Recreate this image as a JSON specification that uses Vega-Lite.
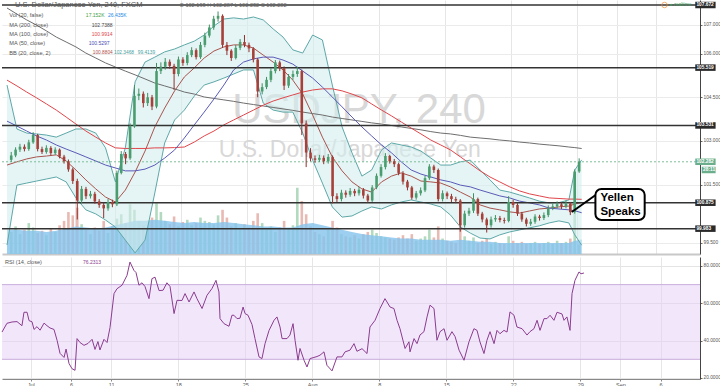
{
"$schema":"https://vega.github.io/schema/vega-lite/v6.json",
"padding":0,"background":"white","spacing":2,
"config":{"font":"Liberation Sans","view":{"stroke":null}},
"datasets":{
"bars":[
{"t":0.17,"o":102.35,"h":102.62,"l":102.28,"c":102.5,"v":40},
{"t":0.5,"o":102.5,"h":102.78,"l":102.44,"c":102.7,"v":50},
{"t":0.83,"o":102.7,"h":102.9,"l":102.62,"c":102.8,"v":36},
{"t":1.17,"o":102.8,"h":102.88,"l":102.64,"c":102.72,"v":44},
{"t":1.5,"o":102.72,"h":103.04,"l":102.66,"c":102.95,"v":56},
{"t":1.83,"o":102.95,"h":103.3,"l":102.9,"c":103.2,"v":48},
{"t":2.17,"o":103.2,"h":103.24,"l":102.64,"c":102.72,"v":38},
{"t":2.5,"o":102.72,"h":102.8,"l":102.55,"c":102.62,"v":42},
{"t":2.83,"o":102.62,"h":102.85,"l":102.56,"c":102.76,"v":34},
{"t":3.17,"o":102.76,"h":102.82,"l":102.5,"c":102.58,"v":46},
{"t":3.5,"o":102.58,"h":102.78,"l":102.52,"c":102.7,"v":40},
{"t":3.83,"o":102.7,"h":102.74,"l":102.4,"c":102.46,"v":52},
{"t":4.17,"o":102.46,"h":102.52,"l":102.22,"c":102.3,"v":60},
{"t":4.5,"o":102.3,"h":102.36,"l":101.94,"c":102.02,"v":76},
{"t":4.83,"o":102.02,"h":102.08,"l":101.52,"c":101.62,"v":70},
{"t":5.17,"o":101.62,"h":101.7,"l":100.3,"c":100.95,"v":84},
{"t":5.5,"o":100.95,"h":101.45,"l":100.85,"c":101.35,"v":54},
{"t":5.83,"o":101.35,"h":101.42,"l":101.0,"c":101.1,"v":44},
{"t":6.17,"o":101.1,"h":101.28,"l":101.02,"c":101.18,"v":36},
{"t":6.5,"o":101.18,"h":101.25,"l":100.84,"c":100.92,"v":48},
{"t":6.83,"o":100.92,"h":101.0,"l":100.7,"c":100.8,"v":42},
{"t":7.17,"o":100.8,"h":100.88,"l":100.35,"c":100.68,"v":60},
{"t":7.5,"o":100.68,"h":101.0,"l":100.6,"c":100.9,"v":38},
{"t":7.83,"o":100.9,"h":100.98,"l":100.72,"c":100.82,"v":50},
{"t":8.17,"o":100.82,"h":101.98,"l":100.76,"c":101.9,"v":64},
{"t":8.5,"o":101.9,"h":102.65,"l":101.85,"c":102.55,"v":72},
{"t":8.83,"o":102.55,"h":102.62,"l":102.2,"c":102.4,"v":56},
{"t":9.17,"o":102.4,"h":103.6,"l":102.35,"c":103.5,"v":90},
{"t":9.5,"o":103.5,"h":104.92,"l":103.45,"c":104.55,"v":80},
{"t":9.83,"o":104.55,"h":104.8,"l":104.4,"c":104.62,"v":60},
{"t":10.17,"o":104.62,"h":104.7,"l":104.15,"c":104.3,"v":52},
{"t":10.5,"o":104.3,"h":104.65,"l":104.2,"c":104.5,"v":48},
{"t":10.83,"o":104.5,"h":104.58,"l":104.06,"c":104.18,"v":66},
{"t":11.17,"o":104.18,"h":105.68,"l":104.12,"c":105.4,"v":92},
{"t":11.5,"o":105.4,"h":105.7,"l":105.3,"c":105.55,"v":76},
{"t":11.83,"o":105.55,"h":105.85,"l":105.45,"c":105.72,"v":60},
{"t":12.17,"o":105.72,"h":105.8,"l":105.48,"c":105.58,"v":54},
{"t":12.5,"o":105.58,"h":105.65,"l":104.75,"c":105.3,"v":68},
{"t":12.83,"o":105.3,"h":105.9,"l":105.22,"c":105.8,"v":50},
{"t":13.17,"o":105.8,"h":105.88,"l":105.58,"c":105.68,"v":58},
{"t":13.5,"o":105.68,"h":106.05,"l":105.6,"c":105.95,"v":62},
{"t":13.83,"o":105.95,"h":106.22,"l":105.88,"c":106.12,"v":52},
{"t":14.17,"o":106.12,"h":106.18,"l":105.8,"c":105.88,"v":56},
{"t":14.5,"o":105.88,"h":106.4,"l":105.82,"c":106.3,"v":66},
{"t":14.83,"o":106.3,"h":106.72,"l":106.22,"c":106.62,"v":60},
{"t":15.17,"o":106.62,"h":107.0,"l":106.55,"c":106.9,"v":58},
{"t":15.5,"o":106.9,"h":107.3,"l":106.82,"c":107.2,"v":54},
{"t":15.83,"o":107.2,"h":107.45,"l":107.1,"c":107.3,"v":70},
{"t":16.17,"o":107.3,"h":107.35,"l":106.2,"c":106.3,"v":80},
{"t":16.5,"o":106.3,"h":106.4,"l":105.95,"c":106.1,"v":66},
{"t":16.83,"o":106.1,"h":106.15,"l":105.75,"c":105.85,"v":50},
{"t":17.17,"o":105.85,"h":106.3,"l":105.8,"c":106.2,"v":56},
{"t":17.5,"o":106.2,"h":106.5,"l":106.12,"c":106.4,"v":44},
{"t":17.83,"o":106.4,"h":106.64,"l":106.22,"c":106.3,"v":54},
{"t":18.17,"o":106.3,"h":106.38,"l":106.05,"c":106.18,"v":48},
{"t":18.5,"o":106.18,"h":106.22,"l":105.7,"c":105.8,"v":60},
{"t":18.83,"o":105.8,"h":105.85,"l":104.5,"c":104.7,"v":74},
{"t":19.17,"o":104.7,"h":104.98,"l":104.6,"c":104.85,"v":56},
{"t":19.5,"o":104.85,"h":105.2,"l":104.78,"c":105.1,"v":44},
{"t":19.83,"o":105.1,"h":105.5,"l":105.02,"c":105.4,"v":50},
{"t":20.17,"o":105.4,"h":105.78,"l":105.32,"c":105.7,"v":40},
{"t":20.5,"o":105.7,"h":105.76,"l":105.4,"c":105.5,"v":48},
{"t":20.83,"o":105.5,"h":105.56,"l":104.75,"c":104.9,"v":60},
{"t":21.17,"o":104.9,"h":105.3,"l":104.82,"c":105.2,"v":46},
{"t":21.5,"o":105.2,"h":105.42,"l":105.1,"c":105.3,"v":52},
{"t":21.83,"o":105.3,"h":105.55,"l":105.2,"c":105.4,"v":120},
{"t":22.17,"o":105.4,"h":105.45,"l":103.2,"c":103.6,"v":96},
{"t":22.5,"o":103.6,"h":103.7,"l":102.1,"c":102.6,"v":72},
{"t":22.83,"o":102.6,"h":102.75,"l":102.3,"c":102.4,"v":50},
{"t":23.17,"o":102.4,"h":102.5,"l":102.25,"c":102.35,"v":40},
{"t":23.5,"o":102.35,"h":102.52,"l":102.28,"c":102.42,"v":36},
{"t":23.83,"o":102.42,"h":102.5,"l":102.2,"c":102.3,"v":32},
{"t":24.17,"o":102.3,"h":102.55,"l":102.22,"c":102.45,"v":44},
{"t":24.5,"o":102.45,"h":102.5,"l":100.85,"c":101.1,"v":60},
{"t":24.83,"o":101.1,"h":101.2,"l":100.9,"c":101.0,"v":48},
{"t":25.17,"o":101.0,"h":101.32,"l":100.92,"c":101.22,"v":36},
{"t":25.5,"o":101.22,"h":101.3,"l":101.05,"c":101.15,"v":32},
{"t":25.83,"o":101.15,"h":101.38,"l":101.08,"c":101.28,"v":30},
{"t":26.17,"o":101.28,"h":101.35,"l":101.1,"c":101.2,"v":34},
{"t":26.5,"o":101.2,"h":101.42,"l":101.12,"c":101.32,"v":28},
{"t":26.83,"o":101.32,"h":101.38,"l":101.02,"c":101.12,"v":36},
{"t":27.17,"o":101.12,"h":101.18,"l":100.88,"c":100.95,"v":40},
{"t":27.5,"o":100.95,"h":101.48,"l":100.9,"c":101.4,"v":44},
{"t":27.83,"o":101.4,"h":101.88,"l":101.34,"c":101.8,"v":38},
{"t":28.17,"o":101.8,"h":102.2,"l":101.74,"c":102.1,"v":32},
{"t":28.5,"o":102.1,"h":102.58,"l":102.02,"c":102.48,"v":30},
{"t":28.83,"o":102.48,"h":102.52,"l":102.22,"c":102.3,"v":28},
{"t":29.17,"o":102.3,"h":102.38,"l":102.1,"c":102.2,"v":26},
{"t":29.5,"o":102.2,"h":102.25,"l":101.82,"c":101.9,"v":30},
{"t":29.83,"o":101.9,"h":101.96,"l":101.5,"c":101.6,"v":34},
{"t":30.17,"o":101.6,"h":101.66,"l":101.3,"c":101.4,"v":28},
{"t":30.5,"o":101.4,"h":101.45,"l":100.98,"c":101.05,"v":36},
{"t":30.83,"o":101.05,"h":101.28,"l":100.98,"c":101.2,"v":24},
{"t":31.17,"o":101.2,"h":101.4,"l":101.12,"c":101.3,"v":28},
{"t":31.5,"o":101.3,"h":101.8,"l":101.24,"c":101.72,"v":32},
{"t":31.83,"o":101.72,"h":102.2,"l":101.66,"c":102.12,"v":44},
{"t":32.17,"o":102.12,"h":102.18,"l":101.9,"c":102.0,"v":30},
{"t":32.5,"o":102.0,"h":102.05,"l":100.92,"c":101.0,"v":50},
{"t":32.83,"o":101.0,"h":101.3,"l":100.92,"c":101.2,"v":28},
{"t":33.17,"o":101.2,"h":101.26,"l":101.0,"c":101.1,"v":24},
{"t":33.5,"o":101.1,"h":101.18,"l":100.9,"c":101.0,"v":22},
{"t":33.83,"o":101.0,"h":101.08,"l":100.86,"c":100.95,"v":20},
{"t":34.17,"o":100.95,"h":101.0,"l":99.88,"c":100.1,"v":56},
{"t":34.5,"o":100.1,"h":100.6,"l":100.02,"c":100.5,"v":32},
{"t":34.83,"o":100.5,"h":100.7,"l":100.42,"c":100.6,"v":24},
{"t":35.17,"o":100.6,"h":101.2,"l":100.52,"c":101.0,"v":30},
{"t":35.5,"o":101.0,"h":101.05,"l":100.42,"c":100.5,"v":20},
{"t":35.83,"o":100.5,"h":100.56,"l":100.2,"c":100.3,"v":24},
{"t":36.17,"o":100.3,"h":100.36,"l":99.85,"c":100.1,"v":28},
{"t":36.5,"o":100.1,"h":100.4,"l":100.02,"c":100.3,"v":18},
{"t":36.83,"o":100.3,"h":100.45,"l":100.22,"c":100.35,"v":22},
{"t":37.17,"o":100.35,"h":100.42,"l":100.2,"c":100.28,"v":20},
{"t":37.5,"o":100.28,"h":100.36,"l":100.16,"c":100.25,"v":18},
{"t":37.83,"o":100.25,"h":101.1,"l":100.2,"c":100.9,"v":32},
{"t":38.17,"o":100.9,"h":100.98,"l":100.7,"c":100.8,"v":24},
{"t":38.5,"o":100.8,"h":100.86,"l":100.42,"c":100.5,"v":20},
{"t":38.83,"o":100.5,"h":100.56,"l":100.22,"c":100.3,"v":22},
{"t":39.17,"o":100.3,"h":100.36,"l":100.06,"c":100.15,"v":18},
{"t":39.5,"o":100.15,"h":100.32,"l":100.08,"c":100.22,"v":20},
{"t":39.83,"o":100.22,"h":100.48,"l":100.15,"c":100.4,"v":22},
{"t":40.17,"o":100.4,"h":100.46,"l":100.26,"c":100.35,"v":18},
{"t":40.5,"o":100.35,"h":100.54,"l":100.28,"c":100.45,"v":20},
{"t":40.83,"o":100.45,"h":100.78,"l":100.38,"c":100.7,"v":22},
{"t":41.17,"o":100.7,"h":100.85,"l":100.62,"c":100.75,"v":18},
{"t":41.5,"o":100.75,"h":100.92,"l":100.68,"c":100.82,"v":24},
{"t":41.83,"o":100.82,"h":100.88,"l":100.66,"c":100.75,"v":20},
{"t":42.17,"o":100.75,"h":100.95,"l":100.68,"c":100.85,"v":22},
{"t":42.5,"o":100.85,"h":100.9,"l":100.45,"c":100.55,"v":28},
{"t":42.83,"o":100.55,"h":102.02,"l":100.5,"c":101.95,"v":76},
{"t":43.17,"o":101.95,"h":102.4,"l":101.9,"c":102.282,"v":17}
],
"ind":[
{"t":-0.15,"ma200":107.57,"ma100":105.09,"ma50":103.68,"bbm":102.17,"bbu":104.92,"bbl":99.42,"vma":44},
{"t":0.6,"ma200":107.36,"ma100":104.89,"ma50":103.51,"bbm":102.28,"bbu":103.41,"bbl":101.48,"vma":44},
{"t":1.34,"ma200":107.16,"ma100":104.68,"ma50":103.34,"bbm":102.38,"bbu":103.27,"bbl":101.55,"vma":42},
{"t":2.09,"ma200":106.98,"ma100":104.48,"ma50":103.17,"bbm":102.45,"bbu":103.24,"bbl":101.62,"vma":42},
{"t":2.84,"ma200":106.78,"ma100":104.27,"ma50":103.03,"bbm":102.48,"bbu":103.2,"bbl":101.69,"vma":40},
{"t":3.58,"ma200":106.57,"ma100":104.06,"ma50":102.86,"bbm":102.52,"bbu":103.13,"bbl":101.76,"vma":42},
{"t":4.33,"ma200":106.4,"ma100":103.82,"ma50":102.72,"bbm":102.31,"bbu":103.27,"bbl":101.59,"vma":46},
{"t":5.07,"ma200":106.23,"ma100":103.58,"ma50":102.59,"bbm":102.0,"bbu":103.41,"bbl":101.04,"vma":50},
{"t":5.82,"ma200":106.02,"ma100":103.34,"ma50":102.45,"bbm":101.66,"bbu":103.41,"bbl":100.63,"vma":48},
{"t":6.57,"ma200":105.85,"ma100":103.13,"ma50":102.31,"bbm":101.35,"bbu":103.27,"bbl":100.49,"vma":46},
{"t":7.31,"ma200":105.68,"ma100":102.93,"ma50":102.17,"bbm":101.07,"bbu":102.76,"bbl":100.28,"vma":48},
{"t":8.06,"ma200":105.54,"ma100":102.76,"ma50":102.07,"bbm":100.9,"bbu":101.59,"bbl":100.04,"vma":52},
{"t":8.81,"ma200":105.4,"ma100":102.74,"ma50":101.97,"bbm":101.31,"bbu":102.76,"bbl":99.59,"vma":56},
{"t":9.55,"ma200":105.27,"ma100":102.74,"ma50":101.97,"bbm":101.93,"bbu":105.03,"bbl":99.15,"vma":60},
{"t":10.3,"ma200":105.13,"ma100":102.74,"ma50":102.03,"bbm":102.65,"bbu":105.71,"bbl":99.59,"vma":60},
{"t":11.04,"ma200":104.99,"ma100":102.76,"ma50":102.17,"bbm":103.48,"bbu":105.88,"bbl":101.21,"vma":62},
{"t":11.79,"ma200":104.89,"ma100":102.76,"ma50":102.41,"bbm":104.13,"bbu":106.06,"bbl":102.93,"vma":60},
{"t":12.54,"ma200":104.79,"ma100":102.77,"ma50":102.69,"bbm":104.72,"bbu":106.16,"bbl":103.72,"vma":58},
{"t":13.28,"ma200":104.68,"ma100":102.79,"ma50":103.1,"bbm":105.2,"bbu":106.3,"bbl":104.06,"vma":56},
{"t":14.03,"ma200":104.61,"ma100":102.96,"ma50":103.55,"bbm":105.51,"bbu":106.43,"bbl":104.54,"vma":58},
{"t":14.78,"ma200":104.51,"ma100":103.17,"ma50":103.99,"bbm":105.85,"bbu":106.64,"bbl":104.92,"vma":56},
{"t":15.52,"ma200":104.46,"ma100":103.34,"ma50":104.44,"bbm":106.09,"bbu":106.95,"bbl":105.03,"vma":56},
{"t":16.27,"ma200":104.41,"ma100":103.55,"ma50":104.92,"bbm":106.23,"bbu":107.19,"bbl":105.16,"vma":58},
{"t":17.01,"ma200":104.36,"ma100":103.72,"ma50":105.44,"bbm":106.3,"bbu":107.23,"bbl":105.3,"vma":56},
{"t":17.76,"ma200":104.3,"ma100":103.89,"ma50":105.71,"bbm":106.3,"bbu":107.19,"bbl":105.44,"vma":54},
{"t":18.51,"ma200":104.25,"ma100":104.06,"ma50":105.82,"bbm":106.19,"bbu":107.26,"bbl":105.44,"vma":52},
{"t":19.25,"ma200":104.2,"ma100":104.23,"ma50":105.88,"bbm":105.95,"bbu":107.16,"bbl":104.3,"vma":50},
{"t":20.0,"ma200":104.15,"ma100":104.37,"ma50":105.88,"bbm":105.71,"bbu":106.85,"bbl":104.06,"vma":50},
{"t":20.75,"ma200":104.1,"ma100":104.48,"ma50":105.78,"bbm":105.44,"bbu":106.57,"bbl":103.99,"vma":48},
{"t":21.49,"ma200":104.05,"ma100":104.58,"ma50":105.64,"bbm":105.09,"bbu":106.13,"bbl":103.99,"vma":48},
{"t":22.24,"ma200":103.99,"ma100":104.68,"ma50":105.4,"bbm":104.61,"bbu":106.02,"bbl":103.27,"vma":54},
{"t":22.99,"ma200":103.94,"ma100":104.75,"ma50":105.16,"bbm":103.89,"bbu":106.64,"bbl":102.34,"vma":56},
{"t":23.73,"ma200":103.89,"ma100":104.79,"ma50":104.85,"bbm":103.13,"bbu":106.47,"bbl":101.55,"vma":52},
{"t":24.48,"ma200":103.82,"ma100":104.79,"ma50":104.51,"bbm":102.45,"bbu":104.92,"bbl":100.73,"vma":48},
{"t":25.22,"ma200":103.77,"ma100":104.72,"ma50":104.17,"bbm":101.97,"bbu":103.48,"bbl":100.38,"vma":44},
{"t":25.97,"ma200":103.72,"ma100":104.61,"ma50":103.82,"bbm":101.59,"bbu":102.59,"bbl":100.42,"vma":40},
{"t":26.72,"ma200":103.67,"ma100":104.48,"ma50":103.48,"bbm":101.35,"bbu":101.79,"bbl":100.59,"vma":36},
{"t":27.46,"ma200":103.62,"ma100":104.27,"ma50":103.17,"bbm":101.24,"bbu":102.0,"bbl":100.73,"vma":34},
{"t":28.21,"ma200":103.58,"ma100":104.06,"ma50":102.86,"bbm":101.59,"bbu":102.69,"bbl":100.66,"vma":32},
{"t":28.96,"ma200":103.53,"ma100":103.86,"ma50":102.59,"bbm":101.79,"bbu":102.93,"bbl":100.8,"vma":30},
{"t":29.7,"ma200":103.48,"ma100":103.65,"ma50":102.28,"bbm":101.9,"bbu":102.86,"bbl":100.9,"vma":28},
{"t":30.45,"ma200":103.43,"ma100":103.44,"ma50":102.0,"bbm":101.79,"bbu":102.79,"bbl":100.97,"vma":28},
{"t":31.19,"ma200":103.38,"ma100":103.24,"ma50":101.86,"bbm":101.62,"bbu":102.65,"bbl":100.9,"vma":26},
{"t":31.94,"ma200":103.32,"ma100":103.03,"ma50":101.76,"bbm":101.59,"bbu":102.41,"bbl":100.83,"vma":26},
{"t":32.69,"ma200":103.27,"ma100":102.86,"ma50":101.66,"bbm":101.55,"bbu":102.17,"bbl":100.73,"vma":26},
{"t":33.43,"ma200":103.24,"ma100":102.69,"ma50":101.59,"bbm":101.42,"bbu":102.17,"bbl":100.45,"vma":24},
{"t":34.18,"ma200":103.19,"ma100":102.45,"ma50":101.48,"bbm":101.24,"bbu":102.28,"bbl":100.04,"vma":26},
{"t":34.93,"ma200":103.13,"ma100":102.21,"ma50":101.42,"bbm":101.07,"bbu":102.34,"bbl":99.83,"vma":24},
{"t":35.67,"ma200":103.1,"ma100":101.97,"ma50":101.31,"bbm":100.8,"bbu":102.0,"bbl":99.66,"vma":22},
{"t":36.42,"ma200":103.07,"ma100":101.76,"ma50":101.21,"bbm":100.69,"bbu":101.66,"bbl":99.63,"vma":22},
{"t":37.16,"ma200":103.03,"ma100":101.59,"ma50":101.11,"bbm":100.63,"bbu":101.31,"bbl":99.77,"vma":20},
{"t":37.91,"ma200":103.0,"ma100":101.42,"ma50":101.04,"bbm":100.56,"bbu":101.24,"bbl":99.87,"vma":20},
{"t":38.66,"ma200":102.96,"ma100":101.28,"ma50":100.93,"bbm":100.52,"bbu":101.14,"bbl":99.94,"vma":20},
{"t":39.4,"ma200":102.93,"ma100":101.18,"ma50":100.87,"bbm":100.59,"bbu":101.04,"bbl":100.01,"vma":20},
{"t":40.15,"ma200":102.89,"ma100":101.11,"ma50":100.8,"bbm":100.66,"bbu":100.93,"bbl":100.08,"vma":20},
{"t":40.9,"ma200":102.86,"ma100":101.04,"ma50":100.69,"bbm":100.69,"bbu":100.87,"bbl":100.18,"vma":20},
{"t":41.64,"ma200":102.83,"ma100":101.02,"ma50":100.66,"bbm":100.73,"bbu":100.88,"bbl":100.25,"vma":20},
{"t":42.39,"ma200":102.79,"ma100":101.0,"ma50":100.63,"bbm":100.76,"bbu":100.97,"bbl":100.18,"vma":20},
{"t":42.84,"ma200":102.77,"ma100":101.0,"ma50":100.6,"bbm":100.83,"bbu":102.0,"bbl":99.77,"vma":24},
{"t":43.36,"ma200":102.7388,"ma100":100.9914,"ma50":100.5297,"bbm":100.8804,"bbu":102.3468,"bbl":99.4139,"vma":26.4}
],
"rsi":[
{"t":-0.15,"r":44.6},{"t":0.22,"r":49.3},{"t":0.6,"r":50},{"t":0.97,"r":50.2},{"t":1.34,"r":48},{"t":1.49,"r":55.2},{"t":1.72,"r":55.2},{"t":1.87,"r":50.7},{"t":2.09,"r":50.1},{"t":2.24,"r":46},{"t":2.46,"r":47.5},{"t":2.69,"r":45.6},{"t":2.99,"r":49.4},{"t":3.21,"r":48},{"t":3.43,"r":46.8},{"t":3.73,"r":46},{"t":3.96,"r":40.2},{"t":4.18,"r":33.2},{"t":4.48,"r":31},{"t":4.63,"r":35.5},{"t":4.85,"r":27.8},{"t":5.07,"r":25},{"t":5.3,"r":24.1},{"t":5.45,"r":41.1},{"t":5.67,"r":39},{"t":5.97,"r":37.5},{"t":6.27,"r":38.5},{"t":6.57,"r":40.7},{"t":6.79,"r":35.3},{"t":7.01,"r":39.5},{"t":7.16,"r":35},{"t":7.46,"r":40.7},{"t":7.69,"r":39},{"t":7.91,"r":47},{"t":8.21,"r":65.2},{"t":8.43,"r":67.8},{"t":8.81,"r":69.7},{"t":9.18,"r":75},{"t":9.4,"r":82.1},{"t":9.7,"r":77.6},{"t":9.85,"r":76.5},{"t":10.07,"r":69.7},{"t":10.3,"r":71},{"t":10.52,"r":69},{"t":10.82,"r":62.5},{"t":11.04,"r":73.2},{"t":11.27,"r":74},{"t":11.57,"r":66.8},{"t":11.87,"r":67},{"t":12.16,"r":71},{"t":12.39,"r":69},{"t":12.69,"r":54.5},{"t":12.91,"r":61.6},{"t":13.28,"r":61.5},{"t":13.51,"r":65.2},{"t":13.81,"r":60.7},{"t":14.18,"r":66.1},{"t":14.4,"r":62.5},{"t":14.78,"r":57.2},{"t":15.15,"r":64.3},{"t":15.52,"r":67.9},{"t":15.82,"r":72.3},{"t":16.04,"r":66.1},{"t":16.12,"r":51.8},{"t":16.42,"r":49.1},{"t":16.79,"r":47.7},{"t":17.01,"r":53.6},{"t":17.16,"r":53.6},{"t":17.39,"r":51.8},{"t":17.61,"r":52},{"t":17.84,"r":58},{"t":17.99,"r":54.5},{"t":18.21,"r":53.6},{"t":18.51,"r":48.6},{"t":18.73,"r":41.1},{"t":19.03,"r":31.3},{"t":19.25,"r":30.4},{"t":19.48,"r":38.4},{"t":19.78,"r":45.5},{"t":20.15,"r":50.9},{"t":20.37,"r":52.7},{"t":20.6,"r":47.3},{"t":20.75,"r":41.1},{"t":21.12,"r":41.1},{"t":21.34,"r":43},{"t":21.57,"r":49.1},{"t":21.72,"r":40.2},{"t":21.94,"r":29.5},{"t":22.09,"r":35.8},{"t":22.39,"r":29.5},{"t":22.61,"r":25.9},{"t":22.84,"r":30.4},{"t":23.13,"r":31},{"t":23.36,"r":31.5},{"t":23.58,"r":32.2},{"t":23.88,"r":34},{"t":24.1,"r":26.8},{"t":24.48,"r":23.8},{"t":24.85,"r":31.3},{"t":25.22,"r":31.3},{"t":25.45,"r":34},{"t":25.82,"r":34.9},{"t":26.12,"r":38.4},{"t":26.34,"r":34.3},{"t":26.72,"r":35.7},{"t":27.09,"r":33.1},{"t":27.31,"r":47.3},{"t":27.69,"r":50.9},{"t":28.06,"r":57.2},{"t":28.43,"r":62.5},{"t":28.81,"r":58},{"t":29.1,"r":57.2},{"t":29.33,"r":50.9},{"t":29.55,"r":46.4},{"t":29.93,"r":35.8},{"t":30.22,"r":39.4},{"t":30.3,"r":34},{"t":30.6,"r":41.1},{"t":30.82,"r":38.4},{"t":31.04,"r":43},{"t":31.34,"r":44.8},{"t":31.57,"r":52.7},{"t":31.79,"r":59},{"t":32.09,"r":57.2},{"t":32.31,"r":40.2},{"t":32.54,"r":44.8},{"t":32.84,"r":46.4},{"t":33.06,"r":40.2},{"t":33.43,"r":44.8},{"t":33.66,"r":42.2},{"t":33.96,"r":34.9},{"t":34.33,"r":29.5},{"t":34.7,"r":39.4},{"t":35.07,"r":46.4},{"t":35.3,"r":45.5},{"t":35.52,"r":39.3},{"t":35.82,"r":33.1},{"t":36.04,"r":40.2},{"t":36.27,"r":44.8},{"t":36.57,"r":38.4},{"t":36.79,"r":45.5},{"t":37.01,"r":43.7},{"t":37.31,"r":45.5},{"t":37.54,"r":44.6},{"t":37.76,"r":55.4},{"t":38.06,"r":53.6},{"t":38.28,"r":47.3},{"t":38.66,"r":46.4},{"t":39.03,"r":43},{"t":39.25,"r":44.8},{"t":39.55,"r":46.4},{"t":39.78,"r":50.9},{"t":40.0,"r":45.5},{"t":40.3,"r":51.8},{"t":40.52,"r":51.8},{"t":40.75,"r":53.6},{"t":41.04,"r":50.9},{"t":41.27,"r":55.2},{"t":41.64,"r":54.3},{"t":41.79,"r":50.9},{"t":42.01,"r":52.7},{"t":42.24,"r":45.5},{"t":42.39,"r":65.2},{"t":42.61,"r":72.3},{"t":42.91,"r":76.8},{"t":43.06,"r":75.8},{"t":43.28,"r":76.2313}
],
"levels":[{"level":107.672},{"level":105.519},{"level":103.531},{"level":100.875},{"level":99.983}]
},
"vconcat":[
{
"width":698,"height":254,
"resolve":{"scale":{"y":"independent"}},
"layer":[
{"data":{"values":[{}]},
 "layer":[
  {"mark":{"type":"text","text":"USDJPY, 240","fontSize":42,"color":"#d8d8d8","align":"center","baseline":"alphabetic"},
   "encoding":{"x":{"datum":26.5,"type":"quantitative","scale":{"domain":[-0.15,51.94],"nice":false,"zero":false},"axis":{"values":[2,5,8,13,18,23,28,33,38,43,46,49],"labels":false,"ticks":false,"domain":true,"domainColor":"#c8c8c8","domainWidth":2,"grid":true,"gridColor":"#e6e6e6","title":null}},
   "y":{"datum":103.62,"type":"quantitative","scale":{"domain":[99.112,107.844],"nice":false,"zero":false},"axis":null}}},
  {"mark":{"type":"text","text":"U.S. Dollar/Japanese Yen","fontSize":23,"color":"#d8d8d8","align":"center","baseline":"alphabetic"},
   "encoding":{"x":{"datum":25.8,"type":"quantitative"},"y":{"datum":102.45,"type":"quantitative"}}}
 ]},
{"data":{"name":"bars"},
 "layer":[
  {"mark":{"type":"bar","width":2.6},
   "encoding":{"x":{"field":"t","type":"quantitative","title":null},
   "y":{"field":"v","type":"quantitative","scale":{"domain":[0,460],"nice":false},"axis":null,"title":null},
   "color":{"condition":{"test":"datum.c >= datum.o","value":"#b2dabf"},"value":"#e8bab4"}}},
  {"data":{"name":"ind"},"mark":{"type":"area","color":"#84c3ec","opacity":0.8},
   "encoding":{"x":{"field":"t","type":"quantitative","title":null},"y":{"field":"vma","type":"quantitative","title":null}}}
 ]},
{"layer":[
  {"data":{"name":"ind"},"mark":{"type":"area","color":"#d4ecec","opacity":0.6},
   "encoding":{"x":{"field":"t","type":"quantitative","title":null},
   "y":{"field":"bbl","type":"quantitative","title":null,"scale":{"domain":[99.112,107.844],"nice":false,"zero":false},
        "axis":{"orient":"right","values":[99.5,100.5,101.5,102.5,103,104,104.5,105,106,106.5,107,107.5],"format":".3f","grid":true,"gridColor":"#ebebeb","title":null,"labelFontSize":4.8,"labelColor":"#555","tickSize":2,"tickColor":"#666","domainColor":"#444","labelPadding":1,"labelOverlap":false}},
   "y2":{"field":"bbu"}}},
  {"data":{"name":"ind"},"mark":{"type":"line","color":"#5ea8a8","strokeWidth":1},
   "encoding":{"x":{"field":"t","type":"quantitative","title":null},"y":{"field":"bbu","type":"quantitative","title":null}}},
  {"data":{"name":"ind"},"mark":{"type":"line","color":"#5ea8a8","strokeWidth":1},
   "encoding":{"x":{"field":"t","type":"quantitative","title":null},"y":{"field":"bbl","type":"quantitative","title":null}}},
  {"data":{"name":"ind"},"mark":{"type":"line","color":"#a9544f","strokeWidth":1},
   "encoding":{"x":{"field":"t","type":"quantitative","title":null},"y":{"field":"bbm","type":"quantitative","title":null}}},
  {"data":{"name":"ind"},"mark":{"type":"line","color":"#6e6e6e","strokeWidth":1},
   "encoding":{"x":{"field":"t","type":"quantitative","title":null},"y":{"field":"ma200","type":"quantitative","title":null}}},
  {"data":{"name":"ind"},"mark":{"type":"line","color":"#e0464b","strokeWidth":1},
   "encoding":{"x":{"field":"t","type":"quantitative","title":null},"y":{"field":"ma100","type":"quantitative","title":null}}},
  {"data":{"name":"ind"},"mark":{"type":"line","color":"#5a5ab8","strokeWidth":1},
   "encoding":{"x":{"field":"t","type":"quantitative","title":null},"y":{"field":"ma50","type":"quantitative","title":null}}},
  {"data":{"name":"levels"},"mark":{"type":"rule","color":"#333333","strokeWidth":1.5},
   "encoding":{"y":{"field":"level","type":"quantitative","title":null}}},
  {"data":{"values":[{}]},"mark":{"type":"rule","color":"#7fbf9c","strokeWidth":1,"strokeDash":[2,2]},
   "encoding":{"y":{"datum":102.282,"type":"quantitative"}}},
  {"data":{"name":"bars"},"mark":{"type":"rule","strokeWidth":1},
   "encoding":{"x":{"field":"t","type":"quantitative","title":null},"y":{"field":"l","type":"quantitative","title":null},"y2":{"field":"h"},
   "color":{"condition":{"test":"datum.c >= datum.o","value":"#3f8f62"},"value":"#8f302c"}}},
  {"data":{"name":"bars"},"mark":{"type":"bar","width":2.6},
   "encoding":{"x":{"field":"t","type":"quantitative","title":null},"y":{"field":"o","type":"quantitative","title":null},"y2":{"field":"c"},
   "color":{"condition":{"test":"datum.c >= datum.o","value":"#4a9d6f"},"value":"#a8403a"}}},
  {"data":{"name":"levels"},"mark":{"type":"rule","color":"#2a2a2a","strokeWidth":6.5},
   "encoding":{"x":{"datum":51.96,"type":"quantitative"},"x2":{"datum":53.5},"y":{"field":"level","type":"quantitative","title":null}}},
  {"data":{"name":"levels"},"mark":{"type":"text","color":"white","fontSize":4.8,"fontWeight":"bold","align":"left","baseline":"middle"},
   "encoding":{"x":{"datum":52.05,"type":"quantitative"},"y":{"field":"level","type":"quantitative","title":null},"text":{"field":"level","type":"quantitative","format":".3f"}}},
  {"data":{"values":[{}]},
   "layer":[
    {"mark":{"type":"rule","color":"#6aae8c","strokeWidth":6.5},"encoding":{"x":{"datum":51.96,"type":"quantitative"},"x2":{"datum":53.5},"y":{"datum":102.282,"type":"quantitative"}}},
    {"mark":{"type":"text","text":"102.282","color":"white","fontSize":4.8,"fontWeight":"bold","align":"left","baseline":"middle"},"encoding":{"x":{"datum":52.05,"type":"quantitative"},"y":{"datum":102.282,"type":"quantitative"}}},
    {"mark":{"type":"rule","color":"#6aae8c","strokeWidth":6.5},"encoding":{"x":{"datum":52.45,"type":"quantitative"},"x2":{"datum":53.5},"y":{"datum":102.0,"type":"quantitative"}}},
    {"mark":{"type":"text","text":"28:11","color":"white","fontSize":4.8,"fontWeight":"bold","align":"left","baseline":"middle"},"encoding":{"x":{"datum":52.55,"type":"quantitative"},"y":{"datum":102.0,"type":"quantitative"}}},
    {"mark":{"type":"text","text":"U.S. Dollar/Japanese Yen, 240, FXCM","fontSize":7.5,"color":"#555","align":"left","baseline":"middle"},"encoding":{"x":{"datum":0.45,"type":"quantitative"},"y":{"datum":107.672,"type":"quantitative"}}},
    {"mark":{"type":"text","text":"O 102.193  H 102.287  L 102.232  C 102.282","fontSize":5.6,"color":"#666","align":"left","baseline":"middle"},"encoding":{"x":{"datum":12.91,"type":"quantitative"},"y":{"datum":107.672,"type":"quantitative"}}},
    {"mark":{"type":"point","shape":"circle","filled":false,"color":"#f08c2c","size":30,"strokeWidth":1},"encoding":{"x":{"datum":49.63,"type":"quantitative"},"y":{"datum":107.672,"type":"quantitative"}}},
    {"mark":{"type":"text","text":"● realtime","fontSize":4.8,"color":"#3a9a5a","align":"left","baseline":"middle"},"encoding":{"x":{"datum":50.05,"type":"quantitative"},"y":{"datum":107.672,"type":"quantitative"}}},
    {"mark":{"type":"text","text":"Vol (20, false)","fontSize":5.6,"color":"#555","align":"left","baseline":"middle"},"encoding":{"x":{"datum":0.02,"type":"quantitative"},"y":{"datum":107.33,"type":"quantitative"}}},
    {"mark":{"type":"text","text":"17.152K","fontSize":5,"color":"#43a047","align":"left","baseline":"middle"},"encoding":{"x":{"datum":5.82,"type":"quantitative"},"y":{"datum":107.33,"type":"quantitative"}}},
    {"mark":{"type":"text","text":"26.435K","fontSize":5,"color":"#1e88e5","align":"left","baseline":"middle"},"encoding":{"x":{"datum":7.5,"type":"quantitative"},"y":{"datum":107.33,"type":"quantitative"}}},
    {"mark":{"type":"text","text":"MA (200, close)","fontSize":5.6,"color":"#555","align":"left","baseline":"middle"},"encoding":{"x":{"datum":0.02,"type":"quantitative"},"y":{"datum":106.98,"type":"quantitative"}}},
    {"mark":{"type":"text","text":"102.7388","fontSize":5,"color":"#444","align":"left","baseline":"middle"},"encoding":{"x":{"datum":6.27,"type":"quantitative"},"y":{"datum":106.98,"type":"quantitative"}}},
    {"mark":{"type":"text","text":"MA (100, close)","fontSize":5.6,"color":"#555","align":"left","baseline":"middle"},"encoding":{"x":{"datum":0.02,"type":"quantitative"},"y":{"datum":106.675,"type":"quantitative"}}},
    {"mark":{"type":"text","text":"100.9914","fontSize":5,"color":"#e0464b","align":"left","baseline":"middle"},"encoding":{"x":{"datum":6.27,"type":"quantitative"},"y":{"datum":106.675,"type":"quantitative"}}},
    {"mark":{"type":"text","text":"MA (50, close)","fontSize":5.6,"color":"#555","align":"left","baseline":"middle"},"encoding":{"x":{"datum":0.02,"type":"quantitative"},"y":{"datum":106.366,"type":"quantitative"}}},
    {"mark":{"type":"text","text":"100.5297","fontSize":5,"color":"#4b4bb5","align":"left","baseline":"middle"},"encoding":{"x":{"datum":6.04,"type":"quantitative"},"y":{"datum":106.366,"type":"quantitative"}}},
    {"mark":{"type":"text","text":"BB (20, close, 2)","fontSize":5.6,"color":"#555","align":"left","baseline":"middle"},"encoding":{"x":{"datum":0.02,"type":"quantitative"},"y":{"datum":106.022,"type":"quantitative"}}},
    {"mark":{"type":"text","text":"100.8804","fontSize":4.8,"color":"#b0504a","align":"left","baseline":"middle"},"encoding":{"x":{"datum":6.34,"type":"quantitative"},"y":{"datum":106.022,"type":"quantitative"}}},
    {"mark":{"type":"text","text":"102.3468","fontSize":4.8,"color":"#3f9e9e","align":"left","baseline":"middle"},"encoding":{"x":{"datum":7.95,"type":"quantitative"},"y":{"datum":106.022,"type":"quantitative"}}},
    {"mark":{"type":"text","text":"99.4139","fontSize":4.8,"color":"#3f9e9e","align":"left","baseline":"middle"},"encoding":{"x":{"datum":9.75,"type":"quantitative"},"y":{"datum":106.022,"type":"quantitative"}}},
    {"mark":{"type":"rule","color":"black","strokeWidth":2},"encoding":{"x":{"datum":44.63,"type":"quantitative"},"y":{"datum":101.21,"type":"quantitative"},"x2":{"datum":42.61},"y2":{"datum":100.556}}},
    {"mark":{"type":"rect","fill":"white","stroke":"black","strokeWidth":2,"cornerRadius":6},"encoding":{"x":{"datum":44.4,"type":"quantitative"},"x2":{"datum":48.13},"y":{"datum":101.347,"type":"quantitative"},"y2":{"datum":100.281}}},
    {"mark":{"type":"text","text":"Yellen","fontSize":11.5,"fontWeight":"bold","color":"black","align":"left","baseline":"alphabetic"},"encoding":{"x":{"datum":44.78,"type":"quantitative"},"y":{"datum":100.934,"type":"quantitative"}}},
    {"mark":{"type":"text","text":"Speaks","fontSize":11.5,"fontWeight":"bold","color":"black","align":"left","baseline":"alphabetic"},"encoding":{"x":{"datum":44.78,"type":"quantitative"},"y":{"datum":100.453,"type":"quantitative"}}}
   ]}
 ]}
]
},
{
"width":698,"height":122,
"layer":[
 {"data":{"values":[{}]},"mark":{"type":"rect","color":"#e6cdf7","opacity":0.5},
  "encoding":{"x":{"datum":-0.15,"type":"quantitative","scale":{"domain":[-0.15,51.94],"nice":false,"zero":false},
   "axis":{"values":[2,5,8,13,18,23,28,33,38,43,46,49],"labelExpr":"datum.value==2?'Jul':datum.value==5?'6':datum.value==8?'11':datum.value==13?'18':datum.value==18?'25':datum.value==23?'Aug':datum.value==28?'8':datum.value==33?'15':datum.value==38?'22':datum.value==43?'29':datum.value==46?'Sep':'6'","grid":true,"gridColor":"#e6e6e6","title":null,"labelFontSize":5.5,"labelColor":"#555","tickSize":2,"tickColor":"#888","domainColor":"#888","labelPadding":1,"labelOverlap":false,"labelFlush":false}},
  "x2":{"datum":51.94},
  "y":{"datum":30,"type":"quantitative","scale":{"domain":[19.46,84.8],"nice":false,"zero":false},
   "axis":{"orient":"right","values":[20,30,40,50,60,70,80],"format":".4f","grid":true,"gridColor":"#e4e4e4","title":null,"labelFontSize":4.8,"labelColor":"#555","tickSize":2,"tickColor":"#666","domainColor":"#444","labelPadding":1,"labelOverlap":false}},
  "y2":{"datum":70}}},
 {"data":{"values":[{}]},"mark":{"type":"rule","color":"#c9acdc","strokeWidth":1},"encoding":{"y":{"datum":70,"type":"quantitative"}}},
 {"data":{"values":[{}]},"mark":{"type":"rule","color":"#c9acdc","strokeWidth":1},"encoding":{"y":{"datum":30,"type":"quantitative"}}},
 {"data":{"name":"rsi"},"mark":{"type":"line","color":"#8b3c8e","strokeWidth":1},
  "encoding":{"x":{"field":"t","type":"quantitative","title":null},"y":{"field":"r","type":"quantitative","title":null}}},
 {"data":{"values":[{}]},"mark":{"type":"text","text":"RSI (14, close)","fontSize":5.6,"color":"#555","align":"left","baseline":"middle"},
  "encoding":{"x":{"datum":0.07,"type":"quantitative"},"y":{"datum":82.1,"type":"quantitative"}}},
 {"data":{"values":[{}]},"mark":{"type":"text","text":"76.2313","fontSize":5,"color":"#8b3c8e","align":"left","baseline":"middle"},
  "encoding":{"x":{"datum":5.9,"type":"quantitative"},"y":{"datum":82.1,"type":"quantitative"}}}
]
}
]
}
